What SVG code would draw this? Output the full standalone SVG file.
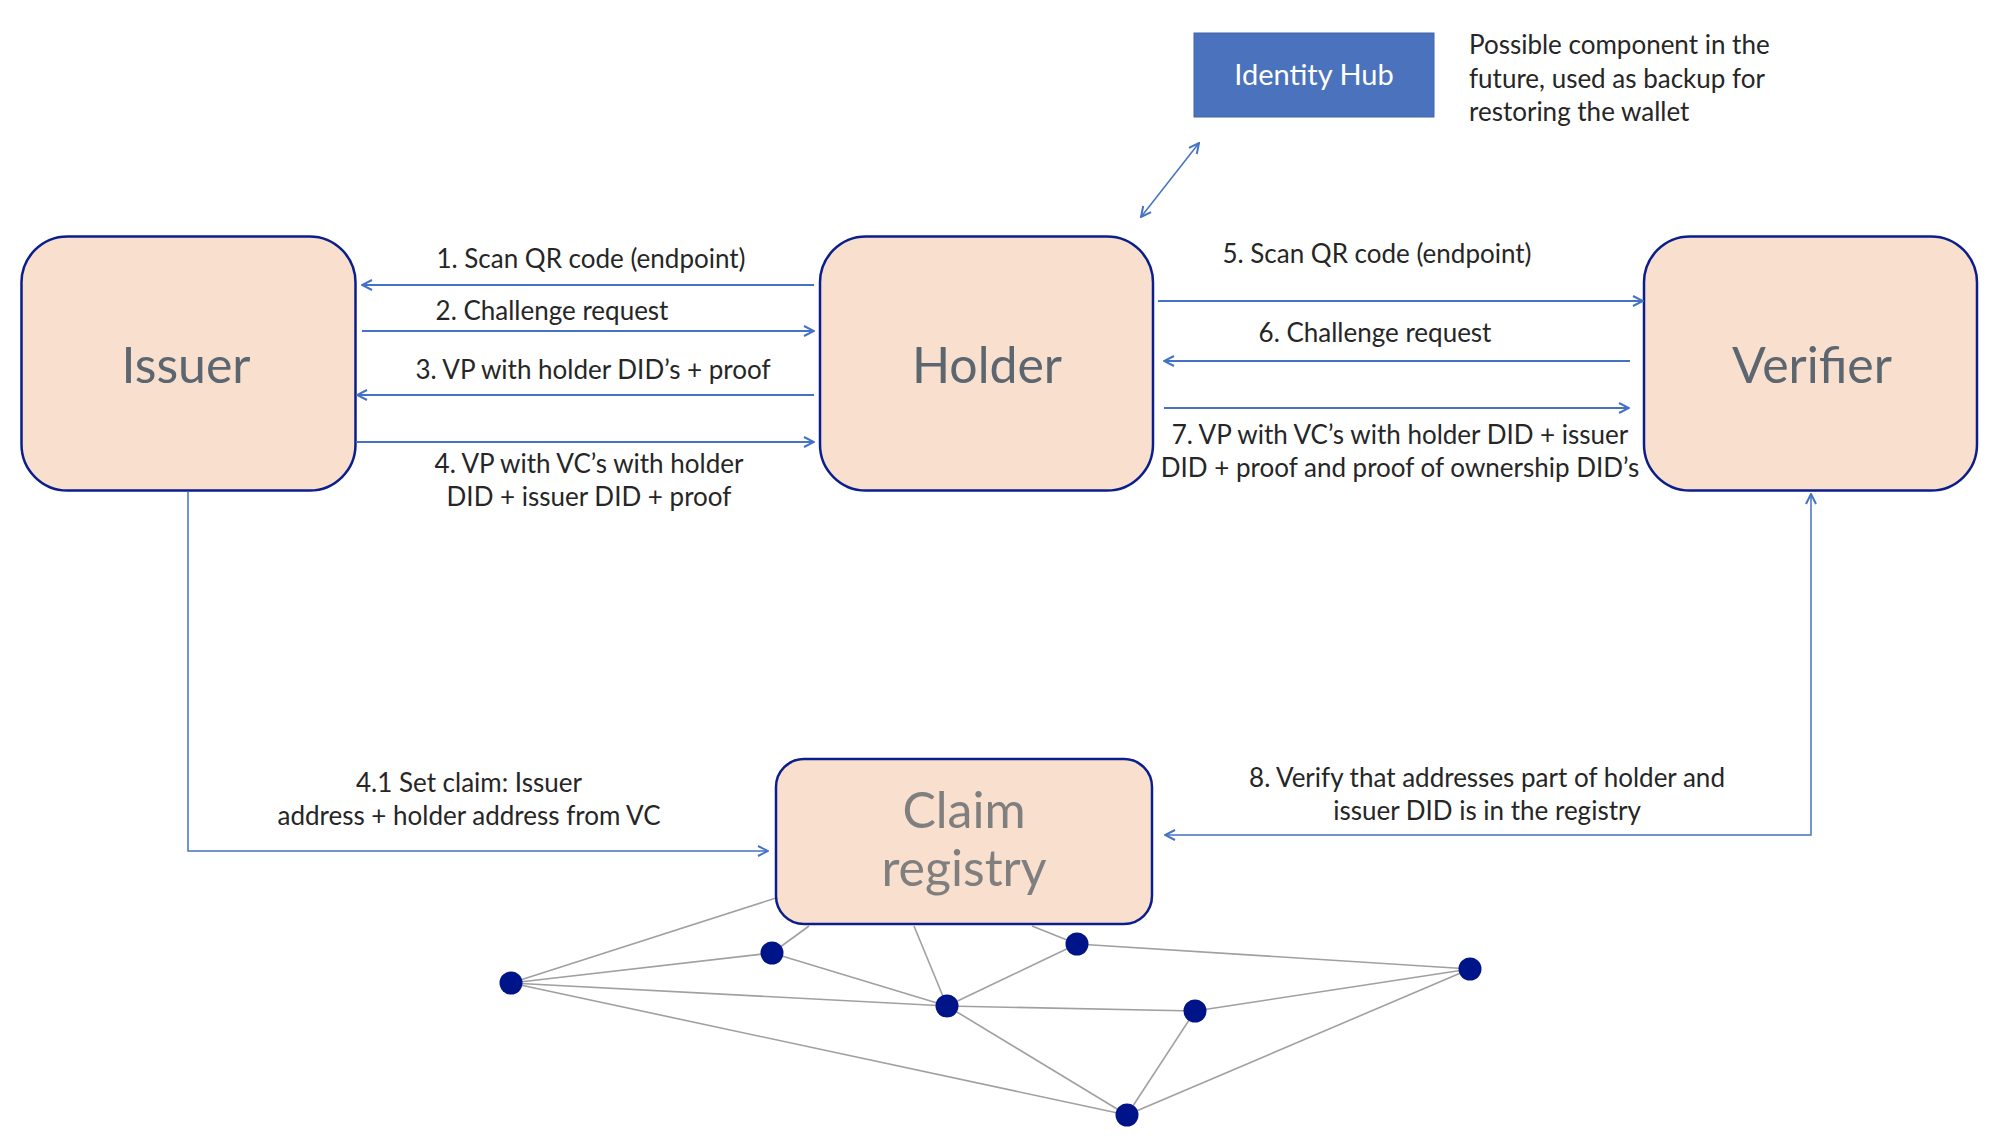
<svg xmlns="http://www.w3.org/2000/svg" width="1994" height="1138" viewBox="0 0 1994 1138">
<style>
.box{fill:#f9dfcd;stroke:#0a1e8c;stroke-width:2.5}
.big{font-family:Lato,"Open Sans",sans-serif;font-size:50px;fill:#5b6670;text-anchor:middle}
.lbl{font-family:Lato,"Open Sans",sans-serif;font-size:26px;fill:#262626}
.mid{text-anchor:middle}
.con{fill:none;stroke:#4472c4;stroke-width:2}
.thin{fill:none;stroke:#4472c4;stroke-width:1.5}
.net{stroke:#a0a0a0;stroke-width:1.6}
.dot{fill:#001489}
</style>
<defs>
<marker id="ah" viewBox="0 0 12 12" refX="11" refY="6" markerWidth="12" markerHeight="12" markerUnits="userSpaceOnUse" orient="auto-start-reverse">
<path d="M1,1 L11,6 L1,11" fill="none" stroke="#4472c4" stroke-width="2"/>
</marker>
</defs>
<rect width="1994" height="1138" fill="#ffffff"/>

<g id="network">
<line class="net" x1="776" y1="898" x2="511" y2="983"/>
<line class="net" x1="511" y1="983" x2="772" y2="953"/>
<line class="net" x1="511" y1="983" x2="947" y2="1006"/>
<line class="net" x1="511" y1="983" x2="1127" y2="1115"/>
<line class="net" x1="772" y1="953" x2="809" y2="926"/>
<line class="net" x1="772" y1="953" x2="947" y2="1006"/>
<line class="net" x1="947" y1="1006" x2="914" y2="926"/>
<line class="net" x1="947" y1="1006" x2="1077" y2="944"/>
<line class="net" x1="1077" y1="944" x2="1032" y2="926"/>
<line class="net" x1="1077" y1="944" x2="1470" y2="969"/>
<line class="net" x1="947" y1="1006" x2="1195" y2="1011"/>
<line class="net" x1="947" y1="1006" x2="1127" y2="1115"/>
<line class="net" x1="1195" y1="1011" x2="1470" y2="969"/>
<line class="net" x1="1195" y1="1011" x2="1127" y2="1115"/>
<line class="net" x1="1470" y1="969" x2="1127" y2="1115"/>
<circle class="dot" cx="511" cy="983" r="11.5"/>
<circle class="dot" cx="772" cy="953" r="11.5"/>
<circle class="dot" cx="947" cy="1006" r="11.5"/>
<circle class="dot" cx="1077" cy="944" r="11.5"/>
<circle class="dot" cx="1195" cy="1011" r="11.5"/>
<circle class="dot" cx="1470" cy="969" r="11.5"/>
<circle class="dot" cx="1127" cy="1115" r="11.5"/>
</g>

<g id="issuer">
<rect class="box" x="21.5" y="236.5" width="334" height="254" rx="46"/>
<text class="big" x="186" y="383">Issuer</text>
</g>
<g id="holder">
<rect class="box" x="820" y="236.5" width="333" height="254" rx="46"/>
<text class="big" x="987" y="383">Holder</text>
</g>
<g id="verifier">
<rect class="box" x="1644" y="236.5" width="333" height="254" rx="46"/>
<text class="big" x="1812" y="383">Verifier</text>
</g>
<g id="claim-registry">
<rect class="box" x="776" y="759" width="376" height="165" rx="28"/>
<text class="big" x="964" y="828" style="fill:#7f7f7f">Claim</text>
<text class="big" x="964" y="886" style="fill:#7f7f7f">registry</text>
</g>
<g id="identity-hub">
<rect x="1194" y="33" width="240" height="84" fill="#4a72bd" stroke="#4064b0" stroke-width="1"/>
<text x="1314" y="85" style="font-family:Lato,'Open Sans',sans-serif;font-size:29px;fill:#ffffff;text-anchor:middle">Identity Hub</text>
</g>
<g id="note">
<text class="lbl" x="1469" y="54">Possible component in the</text>
<text class="lbl" x="1469" y="88">future, used as backup for</text>
<text class="lbl" x="1469" y="121">restoring the wallet</text>
</g>

<g id="connectors">
<line class="con" x1="814" y1="285" x2="362" y2="285" marker-end="url(#ah)"/>
<line class="con" x1="362" y1="331" x2="814" y2="331" marker-end="url(#ah)"/>
<line class="con" x1="814" y1="395" x2="357" y2="395" marker-end="url(#ah)"/>
<line class="con" x1="356" y1="442" x2="814" y2="442" marker-end="url(#ah)"/>
<line class="con" x1="1158" y1="301" x2="1643" y2="301" marker-end="url(#ah)"/>
<line class="con" x1="1630" y1="361" x2="1164" y2="361" marker-end="url(#ah)"/>
<line class="con" x1="1164" y1="408" x2="1629" y2="408" marker-end="url(#ah)"/>
<line class="thin" x1="1141" y1="217" x2="1199" y2="143" marker-start="url(#ah)" marker-end="url(#ah)"/>
<polyline class="thin" points="188,492 188,851 768,851" marker-end="url(#ah)"/>
<polyline class="thin" points="1165,835 1811,835 1811,494" marker-start="url(#ah)" marker-end="url(#ah)"/>
</g>

<g id="labels">
<text class="lbl mid" x="591" y="268">1. Scan QR code (endpoint)</text>
<text class="lbl mid" x="552" y="320">2. Challenge request</text>
<text class="lbl mid" x="593" y="379">3. VP with holder DID’s + proof</text>
<text class="lbl mid" x="589" y="473">4. VP with VC’s with holder</text>
<text class="lbl mid" x="589" y="506">DID + issuer DID + proof</text>
<text class="lbl mid" x="1377" y="263">5. Scan QR code (endpoint)</text>
<text class="lbl mid" x="1375" y="342">6. Challenge request</text>
<text class="lbl mid" x="1400" y="444">7. VP with VC’s with holder DID + issuer</text>
<text class="lbl mid" x="1400" y="477">DID + proof and proof of ownership DID’s</text>
<text class="lbl mid" x="469" y="792">4.1 Set claim: Issuer</text>
<text class="lbl mid" x="469" y="825">address + holder address from VC</text>
<text class="lbl mid" x="1487" y="787">8. Verify that addresses part of holder and</text>
<text class="lbl mid" x="1487" y="820">issuer DID is in the registry</text>
</g>
</svg>
